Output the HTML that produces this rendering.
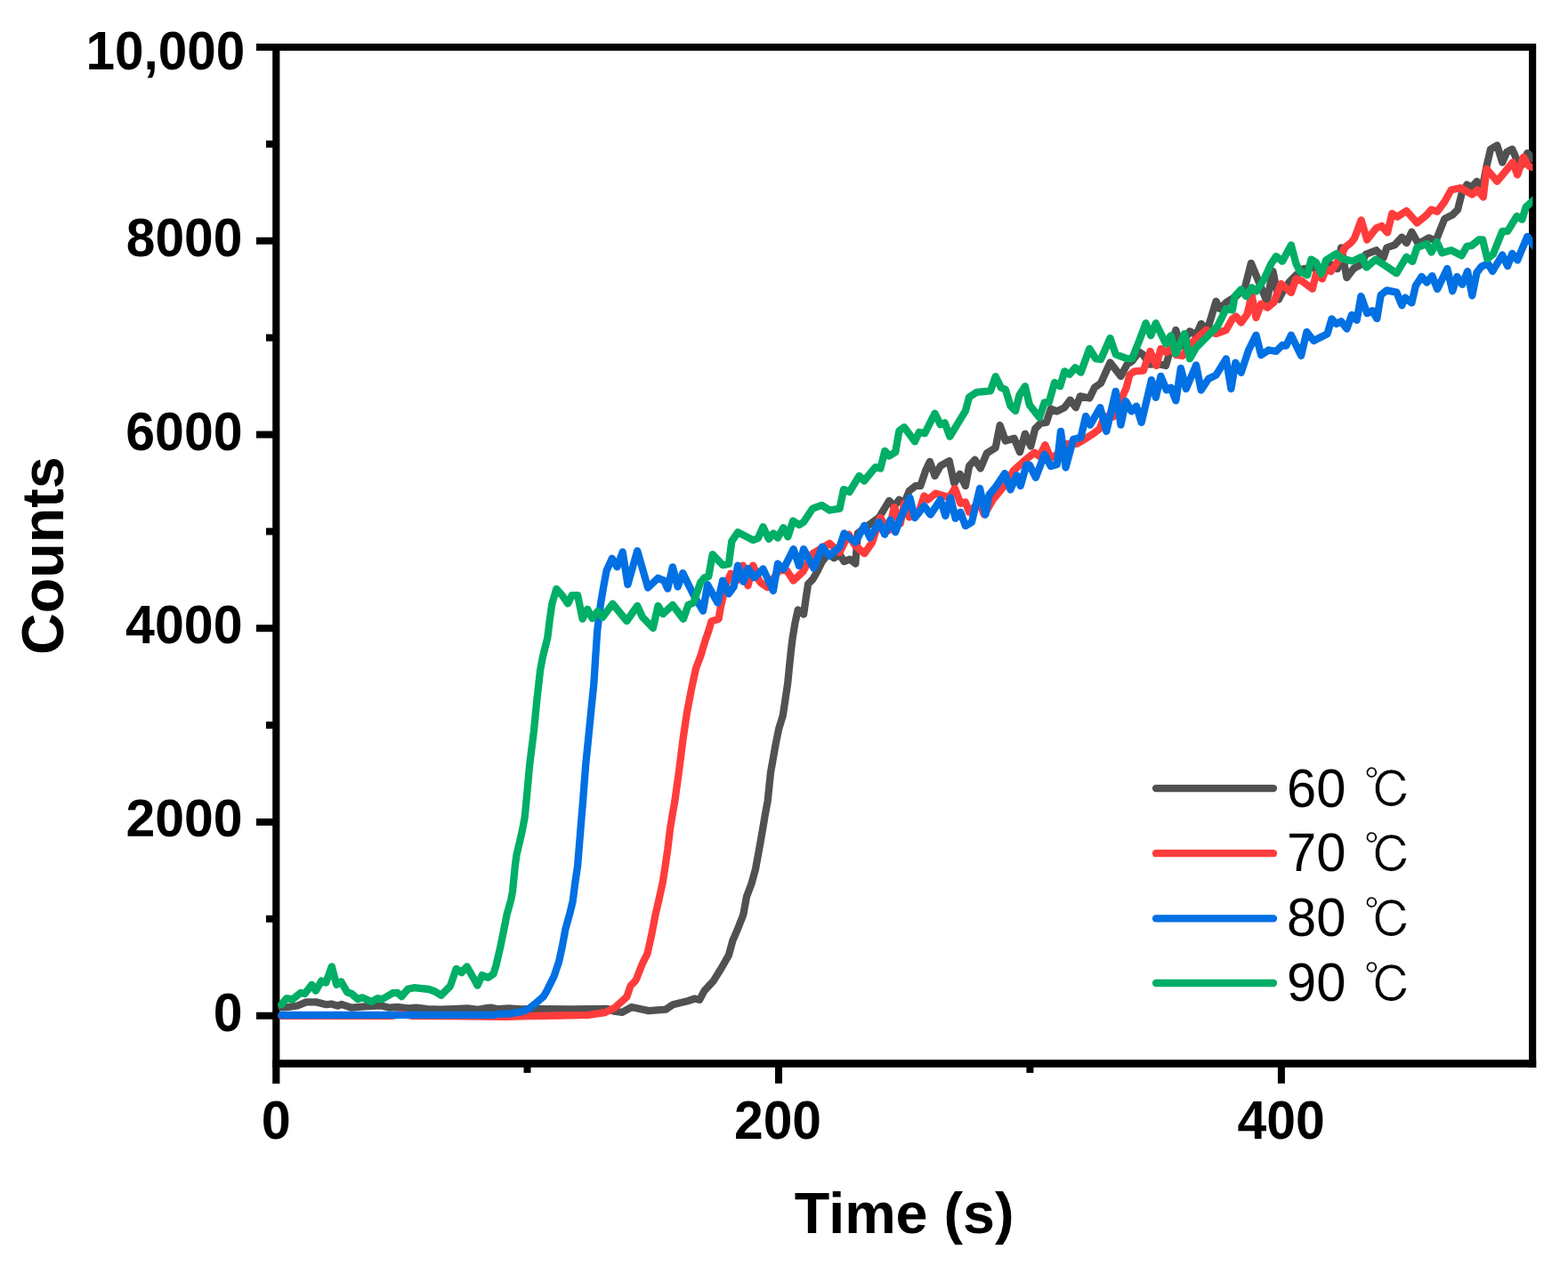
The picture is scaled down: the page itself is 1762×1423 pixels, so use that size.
<!DOCTYPE html><html><head><meta charset="utf-8"><title>Counts vs Time</title>
<style>html,body{margin:0;padding:0;background:#fff;overflow:hidden;}svg{display:block;}</style></head><body>
<svg width="1762" height="1423" viewBox="0 0 1762 1423">
<rect width="1762" height="1423" fill="#fff"/>
<g fill="#000">
<rect x="306.2" y="49" width="8.2" height="1169"/>
<rect x="288" y="49" width="1438" height="8"/>
<rect x="1718" y="49" width="8.2" height="1151"/>
<rect x="306.2" y="1191.1" width="1420" height="8.7"/>
<rect x="288" y="1137.7" width="20" height="8"/>
<rect x="288" y="920.0" width="20" height="8"/>
<rect x="288" y="702.2" width="20" height="8"/>
<rect x="288" y="484.5" width="20" height="8"/>
<rect x="288" y="266.7" width="20" height="8"/>
<rect x="299" y="1028.8" width="9" height="8"/>
<rect x="299" y="811.1" width="9" height="8"/>
<rect x="299" y="593.4" width="9" height="8"/>
<rect x="299" y="375.6" width="9" height="8"/>
<rect x="299" y="157.9" width="9" height="8"/>
<rect x="871.0" y="1195" width="8" height="22.8"/>
<rect x="1435.9" y="1195" width="8" height="22.8"/>
<rect x="588.5" y="1195" width="8" height="10.9"/>
<rect x="1153.4" y="1195" width="8" height="10.9"/>
</g>
<defs><clipPath id="pc"><rect x="310.1" y="53" width="1412.3" height="1142.5"/></clipPath></defs>
<g clip-path="url(#pc)" fill="none" stroke-width="8.3" stroke-linejoin="round" stroke-linecap="round">
<polyline stroke="#515151" points="316.3,1132.3 324.2,1131.8 334.1,1130.5 344.1,1126.4 355.4,1126.4 366.8,1129.2 372.4,1128.5 379.5,1130.6 383.8,1128.9 395.1,1132.7 409.3,1131.3 427.8,1130.3 437.7,1132.7 446.2,1132.0 459.0,1133.4 467.5,1132.7 480.3,1134.2 494.5,1134.6 508.6,1134.2 525.7,1133.4 537.0,1134.9 545.5,1133.2 552.6,1132.7 560.0,1134.2 572.0,1133.5 586.0,1134.5 600.9,1134.0 640.0,1134.5 682.6,1134.0 690.0,1136.7 699.1,1137.8 709.8,1132.0 728.9,1136.1 748.0,1134.7 756.1,1129.3 772.5,1125.2 780.6,1122.5 786.1,1123.8 791.5,1113.6 801.5,1102.9 810.6,1088.3 818.9,1073.6 823.4,1057.2 828.9,1044.4 835.3,1027.9 839.0,1007.8 844.5,993.2 849.0,976.8 852.7,956.7 856.3,936.6 860.0,914.6 862.7,900.0 866.0,868.3 871.5,837.3 875.2,819.0 879.7,804.4 882.5,786.1 885.2,767.9 887.0,749.6 888.9,731.3 890.7,716.7 893.4,700.3 896.7,685.5 903.1,690.5 905.6,672.8 908.1,656.4 913.2,651.3 918.3,642.5 923.9,631.1 930.9,622.2 937.2,627.3 943.6,623.5 948.6,631.1 954.9,628.6 961.3,633.6 963.8,599.5 968.9,595.7 987.8,581.7 999.2,562.8 1004.8,569.4 1010.4,561.6 1016.1,565.8 1021.7,551.8 1028.7,546.2 1034.3,546.2 1040.0,529.3 1044.9,518.8 1050.5,534.9 1056.8,523.7 1066.7,518.1 1072.3,543.4 1078.6,532.8 1084.9,546.2 1089.1,523.7 1095.5,516.7 1101.8,526.5 1108.8,509.6 1118.7,503.3 1123.6,478.0 1129.9,495.6 1139.7,492.8 1146.0,508.1 1151.9,487.6 1158.3,501.6 1163.2,482.0 1169.5,475.6 1175.8,474.9 1180.8,459.5 1187.8,462.3 1196.2,458.1 1202.5,449.6 1208.9,458.1 1213.8,445.4 1224.3,447.5 1230.0,435.6 1237.0,430.7 1247.5,407.5 1259.5,422.9 1266.5,409.6 1272.1,406.1 1279.8,395.5 1284.8,399.0 1291.8,409.6 1300.2,408.9 1310.1,411.0 1315.0,393.4 1321.3,370.9 1326.9,389.2 1337.0,372.3 1344.1,376.7 1349.7,364.0 1356.7,371.0 1366.5,338.7 1370.8,347.1 1377.8,340.1 1389.0,333.1 1398.9,323.2 1405.9,295.8 1414.3,316.2 1423.5,338.7 1430.5,305.0 1436.8,336.6 1442.4,326.1 1449.5,316.2 1456.5,309.2 1464.9,302.2 1476.2,300.8 1484.6,307.8 1494.4,296.5 1502.9,302.2 1507.1,278.3 1513.4,312.0 1521.0,302.0 1528.9,297.6 1534.8,285.8 1546.6,281.3 1554.7,289.5 1558.4,278.4 1567.2,275.4 1575.3,266.6 1580.5,273.2 1586.4,260.7 1593.8,274.0 1605.6,267.3 1613.7,270.3 1623.3,245.9 1632.2,241.5 1638.1,235.6 1642.5,217.9 1648.4,207.6 1653.6,210.5 1659.5,203.9 1665.4,213.5 1670.5,186.9 1675.0,167.7 1682.3,163.3 1688.2,182.5 1693.4,170.7 1699.3,167.7 1704.5,179.5 1710.4,185.4 1716.3,172.1 1725.0,180.5"/>
<polyline stroke="#ff3c3c" points="316.3,1141.8 440.0,1141.8 451.9,1139.8 462.0,1141.8 500.0,1142.0 566.8,1142.8 594.0,1142.2 628.1,1141.5 660.8,1140.9 679.9,1138.1 690.8,1132.7 697.6,1126.6 704.4,1120.4 708.5,1108.2 713.9,1102.7 715.6,1099.2 722.0,1082.8 727.5,1071.8 732.0,1051.7 736.6,1027.9 741.2,1007.8 744.8,991.4 747.6,973.1 750.3,954.8 753.1,931.1 755.8,914.6 758.4,900.0 762.8,868.3 767.4,831.8 772.0,800.7 776.5,777.0 782.0,751.4 787.5,736.8 790.5,726.4 793.0,718.5 796.2,709.4 799.4,698.4 807.6,695.7 809.8,682.2 812.7,669.7 816.6,654.9 821.2,644.7 828.0,652.6 834.8,635.6 840.5,658.3 846.2,635.6 853.0,652.6 855.0,655.1 862.6,660.2 875.2,641.2 884.1,641.2 891.7,652.6 902.4,642.5 913.2,622.2 932.2,610.8 943.6,621.0 953.7,600.7 960.0,612.1 971.4,622.2 980.2,609.6 989.1,581.7 993.0,588.0 999.0,596.0 1004.8,570.1 1011.8,588.3 1016.1,565.8 1021.7,581.3 1032.1,576.7 1038.5,557.4 1042.8,561.6 1051.2,554.6 1061.0,557.4 1066.7,559.5 1073.0,549.0 1079.3,565.8 1084.9,564.4 1089.1,575.7 1100.4,564.4 1106.0,578.5 1115.8,561.6 1128.5,546.2 1139.0,528.8 1151.2,517.8 1162.5,508.7 1168.1,512.9 1174.4,500.2 1180.8,515.0 1189.2,510.1 1199.0,498.8 1210.3,498.8 1217.3,494.6 1228.5,487.6 1235.6,482.0 1241.2,467.9 1251.0,468.6 1259.5,449.6 1265.8,435.6 1269.3,421.5 1274.9,417.3 1284.8,416.6 1292.5,394.8 1299.5,411.0 1304.4,392.0 1310.8,396.2 1317.1,390.6 1321.3,399.0 1329.0,400.0 1338.5,386.0 1344.1,380.9 1355.3,371.0 1366.5,375.2 1377.8,371.0 1384.8,358.4 1389.0,355.6 1394.7,362.6 1401.7,352.8 1406.6,331.7 1411.5,357.0 1417.1,341.5 1424.2,345.7 1431.2,340.1 1439.6,319.0 1450.9,328.9 1456.5,313.4 1463.5,316.2 1474.8,324.7 1479.0,307.8 1486.0,313.4 1490.2,302.2 1495.8,305.0 1504.3,292.3 1511.3,278.3 1518.3,272.6 1522.0,268.0 1529.6,247.4 1536.2,269.5 1546.6,256.3 1552.5,254.0 1559.1,261.4 1564.3,240.0 1570.2,243.7 1580.5,237.1 1592.3,250.4 1602.6,242.2 1608.5,235.6 1615.2,237.8 1623.3,226.7 1630.7,213.5 1641.0,211.2 1654.3,218.6 1660.2,213.5 1666.8,221.6 1670.5,189.8 1682.3,203.9 1700.0,182.5 1705.2,196.5 1711.9,176.6 1717.8,186.5 1725.0,189.0"/>
<polyline stroke="#0070e3" points="316.3,1141.0 450.0,1140.8 555.0,1140.8 560.0,1139.8 573.3,1139.4 587.2,1136.8 594.0,1134.0 600.9,1128.6 610.4,1120.4 613.5,1115.6 617.2,1108.2 622.6,1097.3 628.1,1080.9 631.7,1064.4 635.4,1044.3 640.0,1027.9 643.6,1013.3 646.4,991.4 649.1,973.1 650.9,951.2 652.8,927.4 655.1,900.0 658.2,859.3 661.9,822.7 664.6,795.3 667.4,767.9 669.2,738.7 671.2,709.0 674.8,679.9 678.2,659.5 681.6,641.3 687.8,627.7 693.5,637.3 699.7,620.3 705.4,657.2 716.2,619.2 721.3,636.8 728.1,660.6 739.5,649.8 746.3,652.6 750.2,661.7 755.9,637.3 761.6,659.5 767.3,644.1 779.2,668.5 790.0,686.7 795.1,657.2 806.4,677.6 812.1,652.6 818.9,667.4 824.6,659.5 829.1,635.6 835.4,653.8 840.5,639.0 847.3,649.2 857.5,639.5 868.9,664.0 874.0,633.6 880.3,639.9 891.7,617.2 898.0,636.1 903.1,617.2 914.5,638.7 923.9,614.6 932.2,624.8 943.6,614.6 948.6,599.5 961.3,609.6 971.4,590.6 977.7,604.5 987.8,586.8 994.2,600.7 1000.5,584.3 1006.2,598.2 1011.8,582.7 1022.4,559.5 1028.0,582.0 1038.5,568.7 1045.6,578.5 1056.8,561.6 1062.4,579.9 1068.1,559.5 1073.7,582.7 1079.3,575.7 1084.9,591.1 1092.0,586.9 1101.1,549.0 1107.4,578.5 1111.6,556.0 1118.7,547.6 1129.2,532.1 1135.5,550.4 1142.6,534.2 1146.8,546.2 1153.4,522.7 1156.9,522.7 1163.9,536.8 1173.7,510.8 1180.8,524.1 1187.8,522.0 1192.0,484.8 1197.6,525.5 1206.1,493.9 1214.5,491.8 1220.1,467.9 1225.0,477.7 1236.3,458.1 1243.3,484.8 1253.8,439.8 1259.5,477.7 1265.1,451.0 1271.4,462.3 1277.0,456.7 1282.7,474.9 1293.9,427.1 1298.8,446.8 1304.4,422.9 1310.8,438.4 1315.7,435.6 1321.3,450.3 1326.9,413.8 1332.8,437.1 1344.1,410.4 1349.7,438.5 1358.1,425.8 1366.5,421.6 1377.8,403.4 1383.4,437.1 1388.3,407.6 1394.7,418.8 1403.1,393.5 1411.5,376.7 1417.1,399.1 1425.6,393.5 1434.0,394.9 1441.0,387.9 1445.2,388.6 1450.9,376.7 1462.1,399.8 1468.4,373.1 1476.2,383.0 1483.2,379.5 1491.6,375.2 1496.5,358.4 1501.5,364.0 1507.1,361.2 1513.4,369.6 1519.0,354.0 1524.7,359.8 1529.4,333.0 1536.2,352.2 1542.1,349.2 1547.3,358.1 1551.7,331.5 1558.4,326.4 1569.4,328.6 1575.3,343.3 1579.0,334.5 1586.4,340.4 1590.8,321.2 1597.5,310.9 1603.4,317.5 1609.3,310.1 1615.2,324.9 1626.3,302.0 1632.2,327.1 1637.3,310.9 1643.2,319.7 1649.1,305.0 1654.3,332.3 1659.5,306.4 1664.6,299.8 1672.0,296.1 1677.2,305.0 1688.2,286.5 1694.1,299.1 1699.3,285.0 1705.2,292.4 1716.3,265.8 1725.0,278.0"/>
<polyline stroke="#00ae66" points="316.3,1129.2 322.0,1122.1 328.8,1123.3 337.9,1115.9 342.5,1117.0 350.4,1106.8 354.9,1113.6 361.2,1102.6 366.3,1104.5 372.8,1086.4 378.2,1106.8 383.3,1103.4 390.1,1115.3 395.2,1117.0 402.1,1123.0 407.2,1121.3 417.4,1126.0 424.2,1122.1 429.3,1123.3 441.2,1116.2 446.3,1115.8 451.4,1120.0 458.2,1111.9 465.1,1110.2 482.1,1112.0 488.9,1114.5 495.7,1118.7 505.9,1108.5 512.7,1088.9 518.7,1093.2 524.6,1086.4 531.5,1098.3 536.6,1107.7 541.7,1096.1 548.5,1098.8 554.4,1094.9 557.5,1085.0 562.3,1064.4 566.0,1046.2 569.6,1027.9 574.2,1011.5 576.0,1002.3 578.8,973.1 580.6,960.3 583.3,949.3 587.0,932.9 589.7,918.3 591.5,900.0 595.2,859.3 599.8,822.7 603.4,786.2 607.1,753.3 609.8,738.7 615.3,716.7 618.0,694.8 620.4,678.4 625.3,661.9 631.7,669.2 638.1,678.4 642.7,669.2 649.1,669.2 654.6,695.7 660.1,684.8 665.6,695.0 671.6,687.0 677.0,694.0 688.4,678.6 704.3,698.0 716.2,681.0 721.9,693.5 733.8,706.0 739.5,681.0 745.1,690.1 755.9,679.9 767.8,695.8 773.5,679.9 779.2,677.6 787.1,654.9 791.7,649.2 796.2,648.1 800.7,623.1 812.1,635.1 818.9,633.9 822.3,608.4 829.1,598.2 846.2,607.2 851.8,605.0 857.5,592.2 863.9,605.8 868.9,599.5 874.0,604.5 880.3,593.1 885.4,603.3 891.1,585.5 898.0,590.0 903.1,586.8 913.2,571.6 923.3,567.8 932.2,573.5 943.6,571.6 948.0,550.1 954.5,553.0 965.5,534.9 971.1,540.5 983.7,525.1 989.4,526.5 994.3,506.8 999.2,512.4 1006.2,508.2 1010.4,484.3 1016.1,480.1 1028.0,496.3 1032.9,485.7 1039.2,487.1 1050.5,464.7 1056.8,477.3 1061.7,475.2 1067.4,490.7 1084.9,461.8 1089.1,446.4 1097.6,440.8 1113.0,439.4 1118.7,423.2 1125.0,435.8 1129.9,437.9 1135.5,456.2 1141.1,461.8 1145.5,444.0 1151.9,434.2 1156.9,455.2 1168.1,469.3 1173.7,452.4 1178.7,452.4 1185.0,430.0 1191.3,434.2 1196.2,417.3 1201.8,420.8 1208.2,413.1 1214.5,418.7 1224.3,392.0 1231.4,403.2 1237.0,404.0 1247.5,380.1 1253.8,398.3 1266.5,403.2 1272.1,403.2 1280.5,382.2 1287.6,363.2 1293.2,377.2 1298.8,363.2 1310.1,386.4 1315.7,377.2 1321.3,397.6 1331.1,375.1 1337.0,403.3 1344.1,390.7 1356.7,378.1 1368.0,366.8 1377.8,347.1 1384.8,348.5 1387.6,333.1 1394.7,325.4 1400.3,333.1 1406.6,323.2 1411.5,327.5 1420.0,314.8 1428.4,296.5 1434.0,288.1 1441.0,293.7 1450.9,275.5 1456.5,296.5 1460.7,305.0 1469.1,309.2 1473.4,291.6 1479.0,295.1 1484.6,307.8 1490.2,292.3 1501.5,285.3 1508.5,290.9 1520.0,293.5 1530.3,288.7 1535.5,300.5 1545.8,291.7 1553.9,296.8 1569.4,307.2 1580.5,288.7 1587.2,293.9 1592.3,278.4 1603.4,274.0 1608.5,283.6 1614.5,271.8 1620.4,284.3 1630.7,281.3 1642.5,287.2 1648.4,276.9 1653.6,276.2 1661.7,269.5 1666.1,269.5 1671.3,290.9 1677.9,285.8 1688.2,259.9 1694.1,259.9 1704.5,243.0 1710.4,246.7 1714.8,232.6 1725.0,223.5"/>
</g>
<g fill="#000">
<text transform="translate(96.55,78.24) scale(0.5843,0.6106)" font-family="'Liberation Sans', Arial, sans-serif" font-weight="bold" font-size="100">10,000</text>
<text transform="translate(141.84,288.38) scale(0.5870,0.6183)" font-family="'Liberation Sans', Arial, sans-serif" font-weight="bold" font-size="100">8000</text>
<text transform="translate(141.24,505.98) scale(0.5902,0.6183)" font-family="'Liberation Sans', Arial, sans-serif" font-weight="bold" font-size="100">6000</text>
<text transform="translate(141.12,722.99) scale(0.5907,0.6141)" font-family="'Liberation Sans', Arial, sans-serif" font-weight="bold" font-size="100">4000</text>
<text transform="translate(141.43,940.11) scale(0.5893,0.5887)" font-family="'Liberation Sans', Arial, sans-serif" font-weight="bold" font-size="100">2000</text>
<text transform="translate(239.84,1159.08) scale(0.5894,0.6169)" font-family="'Liberation Sans', Arial, sans-serif" font-weight="bold" font-size="100">0</text>
<text transform="translate(293.73,1280.29) scale(0.5936,0.6056)" font-family="'Liberation Sans', Arial, sans-serif" font-weight="bold" font-size="100">0</text>
<text transform="translate(825.04,1280.00) scale(0.5875,0.6042)" font-family="'Liberation Sans', Arial, sans-serif" font-weight="bold" font-size="100">200</text>
<text transform="translate(1390.42,1280.00) scale(0.5888,0.6042)" font-family="'Liberation Sans', Arial, sans-serif" font-weight="bold" font-size="100">400</text>
<text transform="translate(892.85,1385.94) scale(0.6465,0.6457)" font-family="'Liberation Sans', Arial, sans-serif" font-weight="bold" font-size="100">Time (s)</text>
<text transform="translate(71.42,735.99) rotate(-90) scale(0.6470,0.6761)" font-family="'Liberation Sans', Arial, sans-serif" font-weight="bold" font-size="100">Counts</text>
</g>
<g stroke-width="8.3" stroke-linecap="round">
<line x1="1299" y1="886.1" x2="1431" y2="886.1" stroke="#515151"/>
<line x1="1299" y1="959.2" x2="1431" y2="959.2" stroke="#ff3c3c"/>
<line x1="1299" y1="1032.4" x2="1431" y2="1032.4" stroke="#0070e3"/>
<line x1="1299" y1="1105.0" x2="1431" y2="1105.0" stroke="#00ae66"/>
</g>
<g fill="#000">
<text transform="translate(1446.12,906.59) scale(0.5961,0.6141)" font-family="'Liberation Sans', Arial, sans-serif" font-weight="normal" font-size="100">60</text>
<text transform="translate(1532.51,908.43) scale(0.5396,0.5564)" font-family="'Liberation Sans', 'IPAGothic', 'Noto Sans CJK JP', sans-serif" font-weight="normal" font-size="100" stroke="#fff" stroke-width="1.0">℃</text>
<text transform="translate(1446.12,979.39) scale(0.5961,0.6141)" font-family="'Liberation Sans', Arial, sans-serif" font-weight="normal" font-size="100">70</text>
<text transform="translate(1532.51,981.23) scale(0.5396,0.5564)" font-family="'Liberation Sans', 'IPAGothic', 'Noto Sans CJK JP', sans-serif" font-weight="normal" font-size="100" stroke="#fff" stroke-width="1.0">℃</text>
<text transform="translate(1446.12,1052.29) scale(0.5961,0.6141)" font-family="'Liberation Sans', Arial, sans-serif" font-weight="normal" font-size="100">80</text>
<text transform="translate(1532.51,1054.13) scale(0.5396,0.5564)" font-family="'Liberation Sans', 'IPAGothic', 'Noto Sans CJK JP', sans-serif" font-weight="normal" font-size="100" stroke="#fff" stroke-width="1.0">℃</text>
<text transform="translate(1446.12,1125.49) scale(0.5961,0.6141)" font-family="'Liberation Sans', Arial, sans-serif" font-weight="normal" font-size="100">90</text>
<text transform="translate(1532.51,1127.33) scale(0.5396,0.5564)" font-family="'Liberation Sans', 'IPAGothic', 'Noto Sans CJK JP', sans-serif" font-weight="normal" font-size="100" stroke="#fff" stroke-width="1.0">℃</text>
</g>
</svg></body></html>
